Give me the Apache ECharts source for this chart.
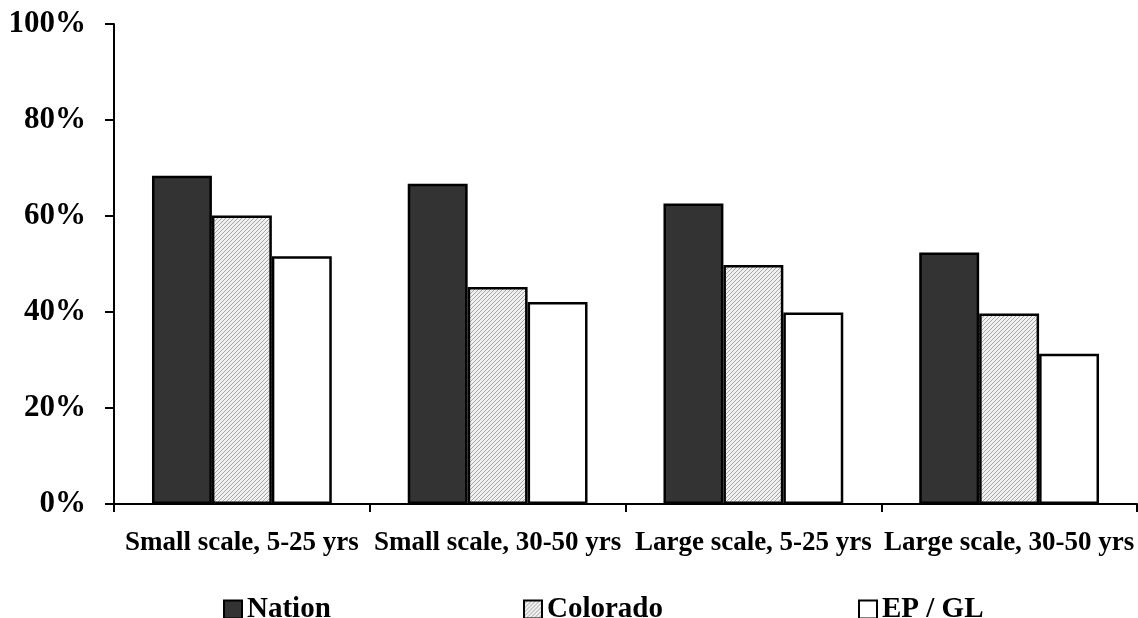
<!DOCTYPE html>
<html><head><meta charset="utf-8">
<script src="https://cdn.jsdelivr.net/npm/echarts@6/dist/echarts.min.js"></script>
<style>html,body{margin:0;padding:0;background:#fff}#c{width:1138px;height:618px}</style>
</head><body><div id="c"></div>
<script>
const categories = ['Small scale, 5-25 yrs', 'Small scale, 30-50 yrs', 'Large scale, 5-25 yrs', 'Large scale, 30-50 yrs'];
const nation = [68.4, 66.7, 62.6, 52.4];
const colorado = [60.1, 45.2, 49.8, 39.7];
const epgl = [51.6, 42.1, 39.9, 31.3];
const yTicks = [0, 20, 40, 60, 80, 100];

const FONT = '"Liberation Serif", "Times New Roman", serif';

// hatch pattern
const pc = document.createElement('canvas');
pc.width = 4; pc.height = 4;
const px = pc.getContext('2d');
px.fillStyle = '#efefef'; px.fillRect(0, 0, 4, 4);
px.strokeStyle = '#a8a8a8'; px.lineWidth = 1;
px.beginPath();
px.moveTo(-1, 5); px.lineTo(5, -1);
px.moveTo(-1, 1); px.lineTo(1, -1);
px.moveTo(3, 5); px.lineTo(5, 3);
px.stroke();
const hatch = { image: pc, repeat: 'repeat' };

const chart = echarts.init(document.getElementById('c'), null, { renderer: 'canvas' });
const legendBase = {
  orient: 'horizontal', top: 590, itemWidth: 18, itemHeight: 18, itemGap: 4,
  icon: 'rect',
  textStyle: { fontFamily: FONT, fontWeight: 'bold', fontSize: 29, color: '#000', padding: [0,0,0,0] },
  selectedMode: false
};
chart.setOption({
  animation: false,
  backgroundColor: '#fff',
  grid: { left: 114, right: 1, top: 24, bottom: 114, containLabel: false },
  legend: [
    Object.assign({}, legendBase, { left: 218, data: ['Nation'] }),
    Object.assign({}, legendBase, { left: 518, data: ['Colorado'] }),
    Object.assign({}, legendBase, { left: 853, data: ['EP / GL'] })
  ],
  xAxis: {
    type: 'category', data: categories,
    axisLine: { lineStyle: { color: '#000', width: 2 } },
    axisTick: { show: true, length: 8, lineStyle: { color: '#000', width: 2 } },
    axisLabel: { fontFamily: FONT, fontWeight: 'bold', fontSize: 27, color: '#000', margin: 26, interval: 0 }
  },
  yAxis: {
    type: 'value', min: 0, max: 100, interval: 20,
    splitLine: { show: false },
    axisLine: { show: true, lineStyle: { color: '#000', width: 2 } },
    axisTick: { show: true, length: 9, lineStyle: { color: '#000', width: 2 } },
    axisLabel: { fontFamily: FONT, fontWeight: 'bold', fontSize: 31, color: '#000', margin: 28,
      formatter: v => yTicks.includes(v) ? v + '%' : '' }
  },
  series: [
    { name: 'Nation', type: 'bar', data: nation, barGap: '0%', barCategoryGap: '29.7%',
      itemStyle: { color: '#333333', borderColor: '#000', borderWidth: 2.5 } },
    { name: 'Colorado', type: 'bar', data: colorado, barGap: '0%', barCategoryGap: '29.7%',
      itemStyle: { color: hatch, borderColor: '#000', borderWidth: 2.5 } },
    { name: 'EP / GL', type: 'bar', data: epgl, barGap: '0%', barCategoryGap: '29.7%',
      itemStyle: { color: '#ffffff', borderColor: '#000', borderWidth: 2.5 } }
  ]
});
</script></body></html>
